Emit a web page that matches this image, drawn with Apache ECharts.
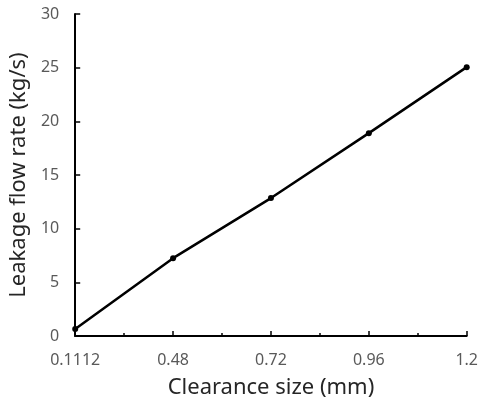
<!DOCTYPE html>
<html>
<head>
<meta charset="utf-8">
<script src="https://cdn.jsdelivr.net/npm/echarts@6/dist/echarts.min.js"></script>
<style>
  html, body { margin: 0; padding: 0; background: #fff; }
  #chart { width: 481px; height: 404px; }
</style>
</head>
<body>
<div id="chart"></div>
<script>
// clearance sizes (shown as evenly spaced categories)
const clearance = ['0.1112', '0.48', '0.72', '0.96', '1.2']
// leakage flow rate, kg/s
const leakage = [0.65, 7.25, 12.85, 18.9, 25.05]

const yTicks = { min: 0, max: 30, interval: 5 }

const chart = echarts.init(document.getElementById('chart'))

const font = 'Noto Sans'

const option = {
  animation: false,
  grid: { left: 75, right: 12, top: 14, bottom: 67 },
  xAxis: {
    type: 'value',
    min: 0,
    max: clearance.length - 1,
    interval: 1,
    name: 'Clearance size (mm)',
    nameLocation: 'middle',
    nameGap: 41,
    nameTextStyle: { fontFamily: font, fontSize: 22, color: '#262626' },
    axisLine: { lineStyle: { color: '#000', width: 2 } },
    axisTick: { show: true, inside: true, length: 5, lineStyle: { color: '#000', width: 1.5 } },
    minorTick: { show: true, splitNumber: 2, length: 3, lineStyle: { color: '#000', width: 1.5 } },
    splitLine: { show: false },
    axisLabel: {
      fontFamily: font, fontSize: 16, color: '#595959', margin: 16,
      formatter: v => clearance[v]
    }
  },
  yAxis: {
    type: 'value',
    min: yTicks.min,
    max: yTicks.max,
    interval: yTicks.interval,
    name: 'Leakage flow rate (kg/s)',
    nameLocation: 'middle',
    nameGap: 41,
    nameTextStyle: { fontFamily: font, fontSize: 22, color: '#262626' },
    axisLine: { show: true, lineStyle: { color: '#000', width: 2 } },
    axisTick: { show: true, inside: true, length: 5, lineStyle: { color: '#000', width: 1.5 } },
    splitLine: { show: false },
    axisLabel: { fontFamily: font, fontSize: 16, color: '#595959', margin: 16 }
  },
  series: [{
    type: 'line',
    data: leakage.map((v, i) => [i, v]),
    symbol: 'circle',
    symbolSize: 6,
    lineStyle: { color: '#000', width: 2.5 },
    itemStyle: { color: '#000' }
  }]
}

chart.setOption(option)
</script>
</body>
</html>
